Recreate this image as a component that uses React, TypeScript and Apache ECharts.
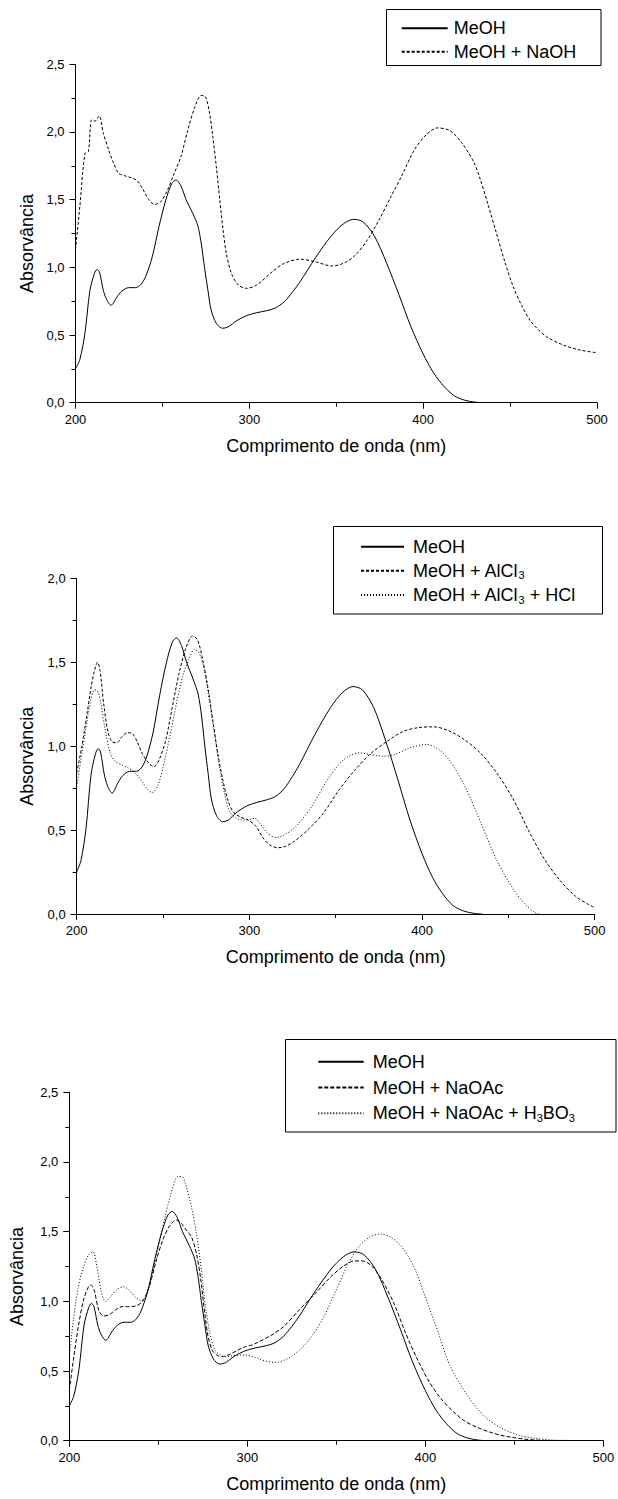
import React, { useEffect, useRef } from "react";
import * as echarts from "echarts";

// ---------- data (wavelength nm, absorbance) ----------
const MEOH: number[][] = [
  [200, 0.25], [202.5, 0.32], [205.4, 0.51], [208.3, 0.83], [210.9, 0.955], [212.4, 0.985], [213.8, 0.965],
  [216, 0.83], [218, 0.76], [220.5, 0.72], [223.8, 0.78], [226.7, 0.825], [230.6, 0.85], [234.5, 0.85],
  [237.4, 0.87], [240.3, 0.93], [244.2, 1.08], [248, 1.3], [252, 1.5], [255.4, 1.62], [257.8, 1.645],
  [260.7, 1.6], [263.6, 1.5], [267.4, 1.4], [270.3, 1.31], [272.3, 1.18], [274.2, 1.0], [276.2, 0.83],
  [278, 0.685], [281, 0.586], [284.5, 0.55], [287.8, 0.56], [292.6, 0.605], [298.4, 0.643], [304.3, 0.665],
  [310, 0.68], [315, 0.70], [320, 0.745], [325, 0.82], [329, 0.89], [338, 1.07], [347, 1.23], [354, 1.32],
  [360, 1.355], [365.5, 1.335], [372, 1.23], [379, 1.03], [386, 0.8], [393, 0.56], [400, 0.36], [406, 0.22],
  [412, 0.12], [418, 0.05], [424, 0.018], [430, 0.004], [435, 0.0]
];

const NAOH: number[][] = [
  [200, 1.13], [202.5, 1.45], [205.4, 1.84], [207.4, 1.855], [209.3, 2.09], [211.2, 2.08], [213.6, 2.12],
  [216, 1.99], [219, 1.87], [221.9, 1.77], [224.8, 1.695], [228.7, 1.675], [232.6, 1.66], [235.5, 1.64],
  [238.4, 1.585], [242.2, 1.5], [245.5, 1.465], [249, 1.485], [252.9, 1.57], [256.8, 1.695], [260.7, 1.82],
  [264.5, 2.01], [268.4, 2.175], [272.3, 2.27], [274.8, 2.26], [277.1, 2.14], [279, 1.965], [281, 1.745],
  [283, 1.5], [284.9, 1.275], [286.8, 1.1], [289.7, 0.955], [293.6, 0.87], [298.4, 0.845], [304.3, 0.87],
  [313.4, 0.97], [320.2, 1.03], [329.3, 1.06], [338.3, 1.04], [347.4, 1.01], [354.2, 1.03], [361, 1.09],
  [367.8, 1.2], [374.6, 1.35], [381.4, 1.52], [388.2, 1.69], [395, 1.87], [401.8, 1.98], [408.2, 2.03],
  [415.4, 2.01], [422.2, 1.92], [429, 1.78], [432.6, 1.66], [437.4, 1.46], [442.2, 1.25], [447, 1.04],
  [451.8, 0.857], [456.6, 0.72], [461.4, 0.61], [466.2, 0.54], [471, 0.487], [480.6, 0.426], [490.2, 0.389],
  [500, 0.369]
];

const ALCL3: number[][] = [
  [200, 0.84], [203, 1.0], [205.8, 1.18], [208.4, 1.355], [210.3, 1.45], [212.1, 1.5], [213.6, 1.445],
  [215.6, 1.255], [218.1, 1.085], [220.4, 1.027], [223.3, 1.02], [226.3, 1.057], [229.2, 1.08], [232.1, 1.076],
  [235, 1.027], [237.9, 0.957], [241.8, 0.898], [244.7, 0.878], [247.7, 0.918], [251.6, 1.037], [255.4, 1.235],
  [259.3, 1.434], [263.2, 1.583], [267.1, 1.656], [270, 1.633], [273, 1.513], [275.9, 1.355], [278.8, 1.156],
  [281.7, 0.957], [284.6, 0.8], [287.5, 0.68], [290.5, 0.61], [294.4, 0.58], [299.2, 0.56], [304.1, 0.52],
  [307.4, 0.46], [312, 0.41], [316.5, 0.395], [320, 0.4], [325.7, 0.43], [333.7, 0.5], [342.8, 0.6],
  [352, 0.74], [361, 0.856], [370.2, 0.955], [379.3, 1.025], [388.5, 1.085], [397.6, 1.11], [406.8, 1.115],
  [415.9, 1.09], [425, 1.035], [434.2, 0.955], [443.3, 0.84], [452.5, 0.69], [461.6, 0.5], [470.7, 0.33],
  [479.9, 0.2], [489, 0.105], [495.9, 0.06], [500, 0.038]
];

const ALCL3_HCL: number[][] = [
  [200, 0.76], [203, 0.957], [204.9, 1.076], [207.8, 1.255], [210.3, 1.335], [212.1, 1.33], [214, 1.255],
  [216.5, 1.096], [219.5, 0.957], [222.4, 0.908], [226.3, 0.888], [230.2, 0.868], [234, 0.838], [237.9, 0.788],
  [241.4, 0.739], [243.8, 0.723], [246.7, 0.759], [249.6, 0.858], [253.5, 1.037], [257.4, 1.235], [261.3, 1.414],
  [265.2, 1.523], [268.1, 1.577], [271, 1.553], [273.9, 1.454], [276.8, 1.275], [279.8, 1.076], [282.7, 0.878],
  [285.6, 0.719], [288.5, 0.61], [292.4, 0.57], [296.3, 0.56], [300.2, 0.564], [303.1, 0.57], [306.2, 0.539],
  [310.8, 0.48], [315.4, 0.456], [320, 0.47], [326.8, 0.52], [335.9, 0.638], [345.1, 0.797], [354.2, 0.916],
  [363.4, 0.96], [370.2, 0.95], [377.1, 0.94], [383.9, 0.95], [393.1, 0.99], [402.2, 1.01], [409, 0.985],
  [415.9, 0.916], [425, 0.757], [434.2, 0.54], [443.3, 0.32], [452.5, 0.153], [459.3, 0.063], [465, 0.01],
  [468, 0]
];

const NAOAC: number[][] = [
  [200, 0.36], [202.3, 0.58], [205.1, 0.82], [208, 1.01], [210.8, 1.105], [212.1, 1.117], [214, 1.08],
  [216.5, 0.938], [219.3, 0.895], [222.2, 0.902], [225.9, 0.938], [229.7, 0.962], [233.5, 0.962], [237.3, 0.967],
  [241.1, 0.998], [244.9, 1.105], [248.7, 1.285], [252.5, 1.44], [256.3, 1.54], [260, 1.584], [262.9, 1.56],
  [265.7, 1.512], [268.6, 1.464], [271.4, 1.344], [273.9, 1.153], [276.1, 0.914], [278, 0.746], [280.3, 0.65],
  [282.8, 0.615], [285.6, 0.603], [289.4, 0.615], [294.1, 0.646], [298.9, 0.675], [302.7, 0.687], [305, 0.7],
  [313.9, 0.76], [320.5, 0.82], [329.3, 0.94], [338.2, 1.057], [347, 1.177], [353.7, 1.25], [360.3, 1.29],
  [364.7, 1.29], [370.2, 1.25], [375.8, 1.15], [382.4, 0.985], [389, 0.77], [395.7, 0.58], [402.3, 0.42],
  [408.9, 0.3], [415.6, 0.21], [422.2, 0.14], [428.8, 0.098], [435.5, 0.065], [442.1, 0.04], [448.7, 0.024],
  [455.4, 0.012], [462, 0.005], [470, 0]
];

const NAOAC_H3BO3: number[][] = [
  [200, 0.6], [202.3, 0.866], [205.1, 1.105], [208, 1.249], [210.8, 1.333], [213.3, 1.356], [215.5, 1.249],
  [217.8, 1.081], [220.3, 0.998], [223.1, 1.033], [226.9, 1.086], [230.3, 1.105], [233.5, 1.081], [237.3, 1.029],
  [240.2, 1.005], [243, 1.029], [245.8, 1.153], [249.6, 1.368], [253.4, 1.584], [257.2, 1.775], [261, 1.895],
  [263.3, 1.895], [265.7, 1.823], [268.6, 1.679], [271.4, 1.488], [274.2, 1.225], [276.5, 0.962], [279, 0.77],
  [281.8, 0.651], [284.7, 0.615], [287.5, 0.603], [291.3, 0.608], [295.1, 0.615], [298.9, 0.615], [302.7, 0.605],
  [307, 0.585], [311.6, 0.567], [316, 0.562], [322.7, 0.59], [329.3, 0.65], [336, 0.746], [342.6, 0.88],
  [349.2, 1.06], [355.9, 1.25], [362.5, 1.39], [369.1, 1.464], [374.7, 1.483], [380.2, 1.464], [386.8, 1.39],
  [393.5, 1.25], [400.3, 1.02], [406.9, 0.79], [413.8, 0.54], [424.1, 0.316], [433.5, 0.172], [442.9, 0.089],
  [452.3, 0.041], [461.7, 0.017], [471.1, 0.005], [480, 0.002], [490, 0]
];

const X_TICKS = { min: 200, max: 500, interval: 100 };
const Y_MAX = [2.5, 2.0, 2.5];
const X_TITLE = "Comprimento de onda (nm)";
const Y_TITLE = "Absorvância";

const FONT = "'Liberation Sans', Arial, Helvetica, sans-serif";

export default function App() {
  const ref = useRef<HTMLDivElement>(null);

  useEffect(() => {
    if (!ref.current) return;
    const chart = echarts.init(ref.current, undefined, { renderer: "svg" });

    const grids = [
      { left: 75.5, top: 64.3, width: 521.5, height: 338.4 },
      { left: 76.7, top: 578.3, width: 518, height: 335.7 },
      { left: 69.3, top: 1092.3, width: 534, height: 348.4 },
    ];
    const yNameGap = [40, 41, 43];

    const fmt = (v: number) => v.toFixed(1).replace(".", ",");

    const xAxes = grids.map((_, i) => ({
      type: "value",
      gridIndex: i,
      min: X_TICKS.min,
      max: X_TICKS.max,
      interval: X_TICKS.interval,
      name: X_TITLE,
      nameLocation: "middle",
      nameGap: 34,
      nameTextStyle: { fontSize: 18, color: "#000", fontFamily: FONT },
      axisLine: { show: true, onZero: false, lineStyle: { color: "#000", width: 1 } },
      axisTick: { show: true, inside: false, length: 6, lineStyle: { color: "#000" } },
      minorTick: { show: true, splitNumber: 2, length: 4, lineStyle: { color: "#000" } },
      axisLabel: { fontSize: 13, color: "#000", margin: 10, fontFamily: FONT },
      splitLine: { show: false },
    }));

    const yAxes = grids.map((_, i) => ({
      type: "value",
      gridIndex: i,
      min: 0,
      max: Y_MAX[i],
      interval: 0.5,
      name: Y_TITLE,
      nameLocation: "middle",
      nameGap: yNameGap[i],
      nameTextStyle: { fontSize: 18, color: "#000", fontFamily: FONT, padding: [0, 20, 0, 0] },
      axisLine: { show: true, onZero: false, lineStyle: { color: "#000", width: 1 } },
      axisTick: { show: true, inside: false, length: 6, lineStyle: { color: "#000" } },
      minorTick: { show: true, splitNumber: 2, length: 4, lineStyle: { color: "#000" } },
      axisLabel: { fontSize: 13, color: "#000", margin: 11, fontFamily: FONT, formatter: fmt },
      splitLine: { show: false },
    }));

    const mk = (name: string, data: number[][], idx: number, type: any) => ({
      type: "line",
      name,
      data,
      xAxisIndex: idx,
      yAxisIndex: idx,
      symbol: "none",
      smooth: 0.3,
      itemStyle: { color: "#000", opacity: 0 },
      lineStyle: { color: "#000", width: 1, type },
      silent: true,
    });

    const legendBase = {
      orient: "vertical",
      padding: 0,
      itemHeight: 14,
      selectedMode: false,
      itemStyle: { opacity: 0 },
      borderWidth: 0,
    };
    const rich = {
      m: { fontSize: 18, lineHeight: 20, color: "#000", fontFamily: FONT },
      s: { fontSize: 11, lineHeight: 10, verticalAlign: "bottom", color: "#000", fontFamily: FONT },
    };
    const legendFmt = (n: string) => {
      if (n === "MeOH + AlCl3") return "{m|MeOH + AlCl}{s|3}";
      if (n === "MeOH + AlCl3 + HCl") return "{m|MeOH + AlCl}{s|3}{m| + HCl}";
      if (n === "MeOH + NaOAc + H3BO3") return "{m|MeOH + NaOAc + H}{s|3}{m|BO}{s|3}";
      return "{m|" + n + "}";
    };

    const option: any = {
      animation: false,
      textStyle: { fontFamily: FONT },
      grid: grids.map((g) => ({ ...g, containLabel: false })),
      xAxis: xAxes,
      yAxis: yAxes,
      legend: [
        {
          ...legendBase,
          left: 400.7, top: 18.3, itemWidth: 46, itemGap: 3.4,
          data: ["MeOH", "MeOH + NaOH"],
          formatter: legendFmt,
          textStyle: { fontSize: 18, lineHeight: 20, color: "#000", padding: [0, 0, 0, 1], rich },
        },
        {
          ...legendBase,
          left: 360, top: 536.7, itemWidth: 43, itemGap: 4.15,
          data: ["MeOH", "MeOH + AlCl3", "MeOH + AlCl3 + HCl"],
          formatter: legendFmt,
          textStyle: { fontSize: 18, lineHeight: 20, color: "#000", padding: [0, 0, 0, 4], rich },
        },
        {
          ...legendBase,
          left: 317.3, top: 1051.7, itemWidth: 45.4, itemGap: 5.8,
          data: ["MeOH", "MeOH + NaOAc", "MeOH + NaOAc + H3BO3"],
          formatter: legendFmt,
          textStyle: { fontSize: 18, lineHeight: 20, color: "#000", padding: [0, 0, 0, 4], rich },
        },
      ],
      graphic: [
        { type: "rect", shape: { x: 386.5, y: 9.5, width: 214.5, height: 56 }, style: { fill: "none", stroke: "#000", lineWidth: 1 }, silent: true },
        { type: "rect", shape: { x: 333.5, y: 526.5, width: 269, height: 87.5 }, style: { fill: "none", stroke: "#000", lineWidth: 1 }, silent: true },
        { type: "rect", shape: { x: 285.5, y: 1039.5, width: 330.5, height: 92.5 }, style: { fill: "none", stroke: "#000", lineWidth: 1 }, silent: true },
      ],
      series: [
        mk("MeOH", MEOH, 0, "solid"),
        mk("MeOH + NaOH", NAOH, 0, [3, 2]),
        mk("MeOH", MEOH, 1, "solid"),
        mk("MeOH + AlCl3", ALCL3, 1, [3, 2]),
        mk("MeOH + AlCl3 + HCl", ALCL3_HCL, 1, [1, 2]),
        mk("MeOH", MEOH, 2, "solid"),
        mk("MeOH + NaOAc", NAOAC, 2, [4, 2]),
        mk("MeOH + NaOAc + H3BO3", NAOAC_H3BO3, 2, [1, 2]),
      ],
    };

    chart.setOption(option);
    return () => chart.dispose();
  }, []);

  return (
    <div
      ref={ref}
      style={{ position: "absolute", left: 0, top: 0, width: 618, height: 1499, background: "#fff" }}
    />
  );
}
